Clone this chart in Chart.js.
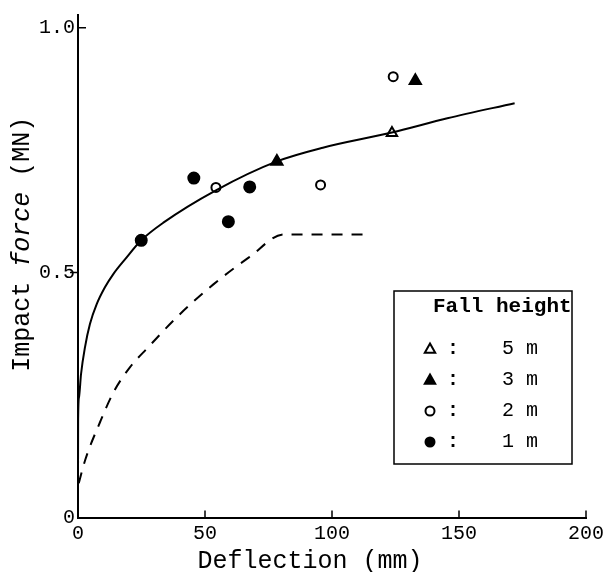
<!DOCTYPE html>
<html>
<head>
<meta charset="utf-8">
<script src="https://cdn.jsdelivr.net/npm/chart.js@4.4.1/dist/chart.umd.min.js"></script>
<style>
  html, body { margin: 0; padding: 0; background: #fff; }
  #wrap { width: 606px; height: 572px; position: relative; }
</style>
</head>
<body>
<div id="wrap"><canvas id="impactChart"></canvas></div>
<script>
// fitted curve (solid) and the dashed curve
const fitX = [0, 0.05, 0.4, 1.2, 2.76, 4.7, 7.4, 10.6, 13.9, 18.5, 24.9, 33.6, 54.3, 78.3, 96.4, 123.6, 145.4, 171.9];
const fitY = [0.06, 0.2, 0.246, 0.293, 0.348, 0.395, 0.436, 0.470, 0.497, 0.527, 0.566, 0.602, 0.668, 0.727, 0.755, 0.786, 0.815, 0.846];
const dashX = [0.3, 2.8, 8.7, 13.9, 20.5, 27.7, 38.9, 53.3, 67.3, 81.1, 114];
const dashY = [0.07, 0.117, 0.195, 0.255, 0.307, 0.348, 0.409, 0.476, 0.531, 0.578, 0.578];

// measured points by fall height
const fallHeights = ['5 m', '3 m', '2 m', '1 m'];
const h5x = [123.6];
const h5y = [0.785];
const h3x = [78.3, 132.8];
const h3y = [0.727, 0.892];
const h2x = [54.3, 95.5, 124.1];
const h2y = [0.674, 0.679, 0.900];
const h1x = [24.9, 45.6, 59.2, 67.6];
const h1y = [0.566, 0.693, 0.604, 0.675];

const xTicks = [0, 50, 100, 150, 200];
const yTicks = [0, 0.5, 1.0];

const pairs = (xs, ys) => xs.map((x, i) => ({ x: x, y: ys[i] }));
const FONT = '"Liberation Mono", "Courier New", monospace';

const lineSet = (xs, ys, dash) => ({
    type: 'line',
    data: pairs(xs, ys),
    borderColor: '#000',
    borderWidth: 2,
    borderDash: dash,
    pointRadius: 0,
    fill: false,
    cubicInterpolationMode: 'monotone',
    showInLegend: false
});

const pointSet = (label, xs, ys, style, filled, r) => ({
    label: label,
    data: pairs(xs, ys),
    pointStyle: style,
    pointRadius: r,
    pointBackgroundColor: filled ? '#000' : '#fff',
    pointBorderColor: '#000',
    pointBorderWidth: 2,
    showLine: false,
    showInLegend: true
});

// inward / outward axis ticks like the original drawing
const tickMarks = {
    id: 'tickMarks',
    afterDraw(chart) {
        const ctx = chart.ctx, xs = chart.scales.x, ys = chart.scales.y;
        const a = chart.chartArea;
        ctx.save();
        ctx.strokeStyle = '#000';
        ctx.lineWidth = 1.5;
        ctx.beginPath();
        xTicks.slice(1).forEach(v => {
            const px = xs.getPixelForValue(v);
            ctx.moveTo(px, a.bottom);
            ctx.lineTo(px, a.bottom - 7);
        });
        const p1 = ys.getPixelForValue(1.0);
        ctx.moveTo(a.left, p1); ctx.lineTo(a.left + 8, p1);
        const p5 = ys.getPixelForValue(0.5);
        ctx.moveTo(a.left, p5); ctx.lineTo(a.left - 8, p5);
        ctx.stroke();
        ctx.restore();
    }
};

// axis titles (y title has "force" in italics)
const axisTitles = {
    id: 'axisTitles',
    afterDraw(chart) {
        const ctx = chart.ctx, a = chart.chartArea;
        ctx.save();
        ctx.fillStyle = '#000';
        ctx.textBaseline = 'middle';
        ctx.font = '25px ' + FONT;
        ctx.textAlign = 'center';
        ctx.fillText('Deflection (mm)', (a.left + a.right) / 2 - 22, a.bottom + 44);

        const parts = [['Impact ', 'normal'], ['force', 'italic'], [' (MN)', 'normal']];
        let total = 0;
        parts.forEach(p => { ctx.font = p[1] + ' 25px ' + FONT; total += ctx.measureText(p[0]).width; });
        ctx.translate(a.left - 56, (a.top + a.bottom) / 2 - 22);
        ctx.rotate(-Math.PI / 2);
        ctx.textAlign = 'left';
        let x = -total / 2;
        parts.forEach(p => {
            ctx.font = p[1] + ' 25px ' + FONT;
            ctx.fillText(p[0], x, 0);
            x += ctx.measureText(p[0]).width;
        });
        ctx.restore();
    }
};

function drawShape(ctx, style, x, y, r) {
    if (style === 'triangle') {
        ctx.moveTo(x, y - r);
        ctx.lineTo(x + r * 0.95, y + r * 0.7);
        ctx.lineTo(x - r * 0.95, y + r * 0.7);
        ctx.closePath();
    } else {
        ctx.arc(x, y, r, 0, Math.PI * 2);
    }
}

// boxed legend "Fall height"
const boxLegend = {
    id: 'boxLegend',
    afterDraw(chart) {
        const ctx = chart.ctx, a = chart.chartArea;
        const left = a.right - 192, top = a.top + 276, w = 178, h = 173;
        ctx.save();
        ctx.strokeStyle = '#000';
        ctx.lineWidth = 1.5;
        ctx.strokeRect(left, top, w, h);
        ctx.fillStyle = '#000';
        ctx.textBaseline = 'middle';
        ctx.font = 'bold 21px ' + FONT;
        ctx.fillText('Fall height', left + 39, top + 16);
        const items = chart.data.datasets.filter(d => d.showInLegend);
        items.forEach((d, i) => {
            const cy = top + 58 + i * 31;
            ctx.fillStyle = d.pointBackgroundColor;
            ctx.strokeStyle = '#000';
            ctx.lineWidth = 2;
            ctx.beginPath();
            drawShape(ctx, d.pointStyle, left + 36, cy, d.pointStyle === 'triangle' ? 5.5 : 4.5);
            ctx.fill();
            ctx.stroke();
            ctx.fillStyle = '#000';
            ctx.font = 'bold 20px ' + FONT;
            ctx.textAlign = 'center';
            ctx.fillText(':', left + 59, cy);
            ctx.textAlign = 'left';
            ctx.font = '20px ' + FONT;
            ctx.fillText(d.label, left + 108, cy);
        });
        ctx.restore();
    }
};

new Chart(document.getElementById('impactChart'), {
    type: 'scatter',
    data: {
        datasets: [
            lineSet(fitX, fitY, []),
            lineSet(dashX, dashY, [11, 9]),
            pointSet(fallHeights[0], h5x, h5y, 'triangle', false, 6),
            pointSet(fallHeights[1], h3x, h3y, 'triangle', true, 6.5),
            pointSet(fallHeights[2], h2x, h2y, 'circle', false, 4.5),
            pointSet(fallHeights[3], h1x, h1y, 'circle', true, 5.5)
        ]
    },
    options: {
        responsive: true,
        maintainAspectRatio: false,
        animation: false,
        layout: { padding: { left: 0, top: 13, right: 20, bottom: 0 } },
        plugins: {
            legend: { display: false },
            tooltip: { enabled: false }
        },
        scales: {
            x: {
                type: 'linear',
                min: 0,
                max: 200,
                afterBuildTicks: s => { s.ticks = xTicks.map(v => ({ value: v })); },
                afterFit: s => { s.height = 54.5; s.paddingLeft = 0; s.paddingRight = 0; },
                grid: { display: true, drawOnChartArea: false, drawTicks: false },
                border: { display: true, color: '#000', width: 2 },
                ticks: {
                    color: '#000',
                    padding: 4,
                    maxRotation: 0,
                    font: { family: FONT, size: 20 }
                }
            },
            y: {
                type: 'linear',
                min: 0,
                max: 1.026,
                afterBuildTicks: s => { s.ticks = yTicks.map(v => ({ value: v })); },
                afterFit: s => { s.width = 78; },
                grid: { display: true, drawOnChartArea: false, drawTicks: false },
                border: { display: true, color: '#000', width: 2 },
                ticks: {
                    color: '#000',
                    padding: 3,
                    font: { family: FONT, size: 20 },
                    callback: v => v === 0 ? '0' : v.toFixed(1)
                }
            }
        }
    },
    plugins: [tickMarks, axisTitles, boxLegend]
});
</script>
</body>
</html>
